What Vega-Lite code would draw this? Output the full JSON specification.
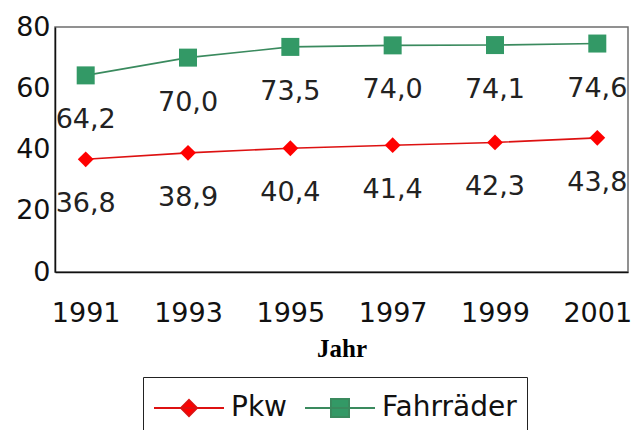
{
  "$schema": "https://vega.github.io/schema/vega-lite/v6.json",
  "width": 573,
  "height": 245,
  "autosize": {"type": "none"},
  "padding": {"left": 55, "top": 27, "right": 11, "bottom": 158},
  "background": "#ffffff",
  "config": {
    "locale": {"number": {"decimal": ",", "thousands": ".", "grouping": [3], "currency": ["", " €"]}},
    "view": {"stroke": "#6e6e6e", "strokeWidth": 1.5},
    "font": "DejaVu Sans",
    "axis": {"grid": false, "ticks": false, "domainColor": "#111111", "domainWidth": 1.5, "labelFont": "DejaVu Sans", "labelFontSize": 27, "labelColor": "#111111"}
  },
  "data": {
    "values": [
      {"Jahr": "1991", "Serie": "Pkw", "Wert": 36.8},
      {"Jahr": "1993", "Serie": "Pkw", "Wert": 38.9},
      {"Jahr": "1995", "Serie": "Pkw", "Wert": 40.4},
      {"Jahr": "1997", "Serie": "Pkw", "Wert": 41.4},
      {"Jahr": "1999", "Serie": "Pkw", "Wert": 42.3},
      {"Jahr": "2001", "Serie": "Pkw", "Wert": 43.8},
      {"Jahr": "1991", "Serie": "Fahrräder", "Wert": 64.2},
      {"Jahr": "1993", "Serie": "Fahrräder", "Wert": 70.0},
      {"Jahr": "1995", "Serie": "Fahrräder", "Wert": 73.5},
      {"Jahr": "1997", "Serie": "Fahrräder", "Wert": 74.0},
      {"Jahr": "1999", "Serie": "Fahrräder", "Wert": 74.1},
      {"Jahr": "2001", "Serie": "Fahrräder", "Wert": 74.6}
    ]
  },
  "encoding": {
    "x": {
      "field": "Jahr", "type": "ordinal",
      "scale": {"type": "point", "padding": 0.3},
      "axis": {"title": "Jahr", "labelAngle": 0, "labelPadding": 28, "titleFont": "Liberation Serif", "titleFontWeight": "bold", "titleFontSize": 25, "titleColor": "#000000", "titlePadding": 10}
    },
    "y": {
      "field": "Wert", "type": "quantitative",
      "scale": {"domain": [0, 80], "nice": false},
      "axis": {"title": null, "values": [0, 20, 40, 60, 80], "labelPadding": 5}
    }
  },
  "layer": [
    {
      "mark": {"type": "line", "strokeWidth": 1.6},
      "encoding": {
        "color": {
          "field": "Serie", "type": "nominal",
          "scale": {"domain": ["Pkw", "Fahrräder"], "range": ["#dd1111", "#3a8a5e"]},
          "legend": {
            "title": null,
            "orient": "none",
            "legendX": 88,
            "legendY": 350,
            "direction": "horizontal",
            "padding": 10,
            "strokeColor": "#222222",
            "labelFont": "DejaVu Sans",
            "labelFontSize": 28,
            "labelColor": "#111111",
            "labelOffset": 36,
            "columnPadding": 14,
            "symbolSize": 1600,
            "symbolStrokeWidth": 2,
            "encode": {
              "symbols": {
                "update": {
                  "shape": {"signal": "datum.value === 'Pkw' ? 'M-1,0H2.5M0.75,-0.4L1.15,0L0.75,0.4L0.35,0Z' : 'M-1,0H2.5M0.3,-0.45H1.2V0.45H0.3Z'"},
                  "fill": {"signal": "datum.value === 'Pkw' ? '#ff0000' : '#339966'"},
                  "stroke": {"signal": "datum.value === 'Pkw' ? '#ff0000' : '#3a9a66'"}
                }
              }
            }
          }
        }
      }
    },
    {
      "transform": [{"filter": "datum.Serie === 'Pkw'"}],
      "mark": {"type": "point", "filled": true, "opacity": 1, "shape": "diamond", "size": 250, "color": "#ff0000"}
    },
    {
      "transform": [{"filter": "datum.Serie === 'Fahrräder'"}],
      "mark": {"type": "point", "filled": true, "opacity": 1, "shape": "square", "size": 324, "color": "#339966"}
    },
    {
      "mark": {"type": "text", "dy": 45, "fontSize": 27, "font": "DejaVu Sans", "color": "#222222", "baseline": "middle", "align": "center"},
      "encoding": {
        "text": {"field": "Wert", "type": "quantitative", "format": ".1f"}
      }
    }
  ]
}
